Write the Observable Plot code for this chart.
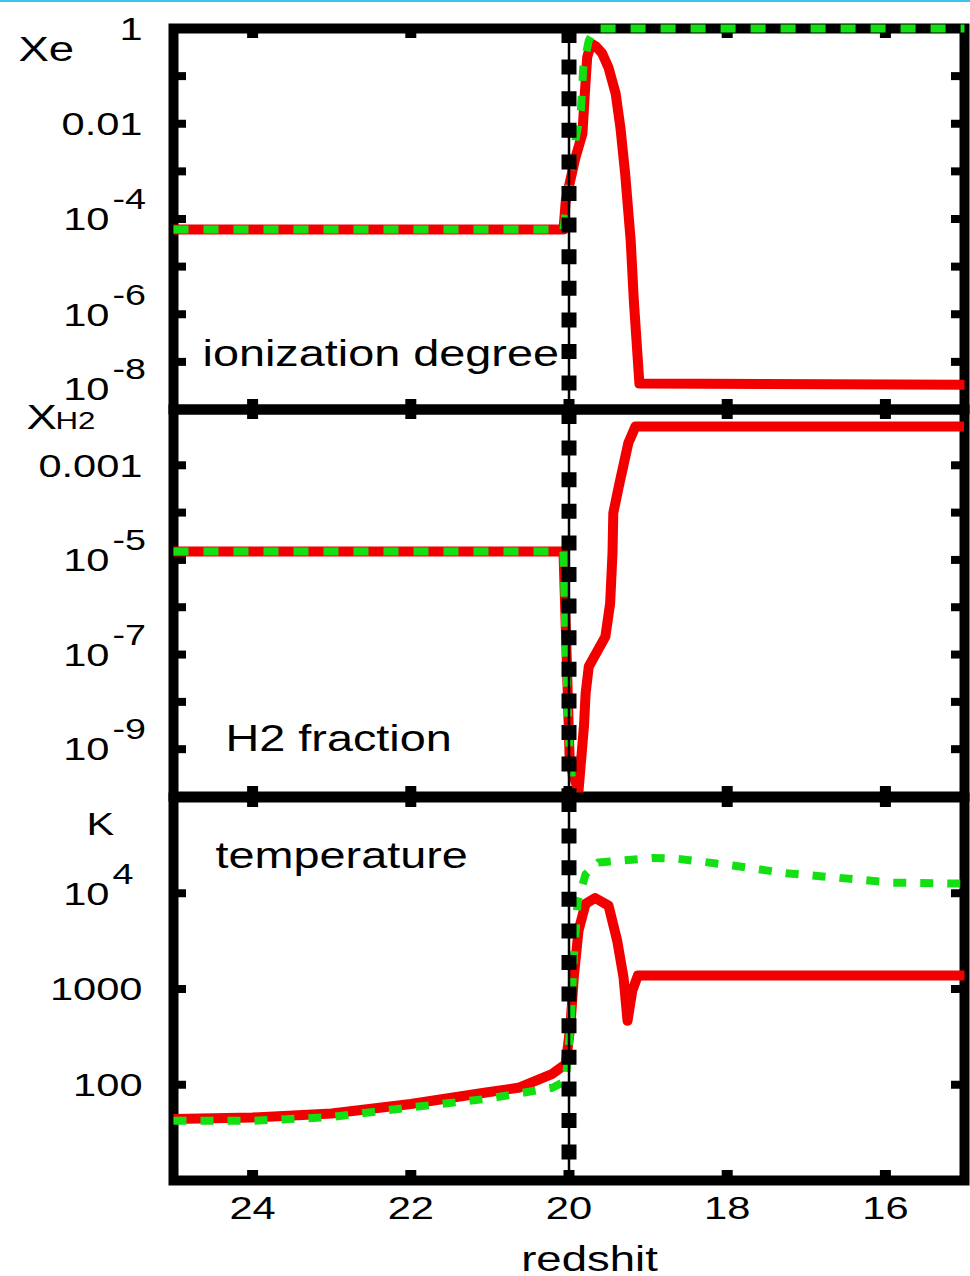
<!DOCTYPE html>
<html><head><meta charset="utf-8">
<script src="https://cdn.jsdelivr.net/npm/d3@7"></script>
<script src="https://cdn.jsdelivr.net/npm/@observablehq/plot@0.6"></script>
<style>
body{margin:0;background:#fff;}
#chart{position:relative;width:970px;height:1276px;background:#fff;overflow:hidden;}
#chart svg{position:absolute;left:0;top:0;background:transparent !important;max-width:none;}
#topline{position:absolute;left:0;top:0;width:970px;height:2px;background:#3cc4ef;}
</style></head><body><div id="chart"></div>
<script>
// ---------- data ----------
const redshiftDomain = [25, 15];
const redshiftTicks = [24, 22, 20, 18, 16];
const ionizationRedshift = 20;

// ionization degree Xe
const xeDomain = [1e-8, 1];
const xeTicks = [1e-1, 1e-2, 1e-3, 1e-4, 1e-5, 1e-6, 1e-7];
const xeLabelValues = [1, 1e-2, 1e-4, 1e-6, 1e-8];
const xeLabelBase = ["1", "0.01", "10", "10", "10"];
const xeLabelExp = ["", "", "-4", "-6", "-8"];
const xeRedZ = [25, 20.07, 20.04, 19.92, 19.83, 19.80, 19.77, 19.72, 19.66, 19.58, 19.50, 19.41, 19.35, 19.29, 19.22, 19.18, 19.13, 19.11, 15];
const xeRed  = [6.0e-5, 6.0e-5, 2.5e-4, 1.9e-3, 6.2e-3, 0.043, 0.25, 0.48, 0.42, 0.30, 0.15, 0.043, 8.3e-3, 8.9e-4, 3.5e-5, 1.9e-6, 1.1e-7, 3.5e-8, 3.3e-8];
const xeGreenZ = [25, 20.07, 20.05, 19.96, 19.85, 19.82, 19.75, 19.67, 15];
const xeGreen  = [6.0e-5, 6.0e-5, 1.1e-4, 1.9e-3, 0.019, 0.15, 0.56, 1, 1];

// H2 fraction
const h2Domain = [1e-10, 0.0151];
const h2Ticks = [1e-3, 1e-4, 1e-5, 1e-6, 1e-7, 1e-8, 1e-9];
const h2LabelValues = [1e-3, 1e-5, 1e-7, 1e-9];
const h2LabelBase = ["0.001", "10", "10", "10"];
const h2LabelExp = ["", "-5", "-7", "-9"];
const h2RedZ = [25, 20.07, 20.03, 19.99, 19.88, 19.81, 19.79, 19.75, 19.54, 19.48, 19.45, 19.44, 19.37, 19.25, 19.16, 15];
const h2Red  = [1.5e-5, 1.5e-5, 1e-7, 5e-10, 1.3e-10, 3.2e-9, 1.5e-8, 5.6e-8, 2.4e-7, 1.2e-6, 1.4e-5, 9.8e-5, 3.6e-4, 2.95e-3, 6.6e-3, 6.6e-3];
const h2GreenZ = [25, 20.07, 20.04, 20.00, 19.96, 19.90, 15];
const h2Green  = [1.5e-5, 1.5e-5, 1e-7, 1.5e-9, 2e-10, 1e-12, 1e-12];

// temperature K
const tDomain = [10, 1e5];
const tTicks = [1e4, 1e3, 1e2];
const tLabelValues = [1e4, 1e3, 1e2];
const tLabelBase = ["10", "1000", "100"];
const tLabelExp = ["4", "", ""];
const tRedZ = [25, 24, 23, 22, 21.05, 20.64, 20.21, 20.04, 19.98, 19.94, 19.88, 19.79, 19.67, 19.50, 19.39, 19.31, 19.26, 19.20, 19.13, 15];
const tRed  = [44, 45.5, 50, 63, 83, 93, 130, 165, 435, 1310, 4060, 7770, 8920, 7420, 3170, 1310, 465, 960, 1380, 1380];
const tGreenZ = [25, 24, 23, 22, 21.05, 20.64, 20.21, 20.04, 19.98, 19.94, 19.89, 19.79, 19.63, 18.94, 18.62, 17.93, 17.26, 16.59, 15.91, 15];
const tGreen  = [42, 42, 46, 58, 71, 81, 93, 110, 440, 2100, 8300, 15800, 20900, 23400, 22900, 19500, 16200, 14500, 12900, 12600];

// ---------- layout ----------
const FONT = "'Liberation Sans', Arial, Helvetica, sans-serif";
const W = 970, H = 1276, ML = 173, MR = 6;
const RED = "#f20000", GREEN = "#12e012";

function rows(z, v) { return z.map((d, i) => ({z: d, v: v[i]})); }

function textAt(str, xPx, basePx, fs, anchor, top) {
  return Plot.text([str], {text: d => d, frameAnchor: "top-left", dx: xPx - ML, dy: basePx - top - 0.32 * fs,
    textAnchor: anchor, lineAnchor: "middle", fontSize: fs, fontFamily: FONT, fill: "black"});
}

function panel(opt) {
  const innerH = opt.bottom - opt.top;
  const innerW = W - ML - MR;
  const marks = [
    Plot.frame({stroke: "black", strokeWidth: 10}),
    Plot.tickX(redshiftTicks, {x: d => d, insetBottom: innerH - 10, stroke: "black", strokeWidth: 11}),
    Plot.tickX(redshiftTicks, {x: d => d, insetTop: innerH - 10, stroke: "black", strokeWidth: 11}),
    Plot.tickY(opt.ticks, {y: d => d, insetRight: innerW - 13, stroke: "black", strokeWidth: 8}),
    Plot.tickY(opt.ticks, {y: d => d, insetLeft: innerW - 13, stroke: "black", strokeWidth: 8})
  ];
  opt.labelValues.forEach((v, i) => {
    const shift = (opt.raise && v === opt.raise) ? -21 : 0;
    if (opt.labelExp[i]) {
      marks.push(Plot.text([v], {y: d => d, text: () => opt.labelBase[i], frameAnchor: "left", textAnchor: "end",
        dx: 109 - ML, dy: shift + 1, lineAnchor: "middle", fontSize: 32, fontFamily: FONT, fill: "black"}));
      marks.push(Plot.text([v], {y: d => d, text: () => opt.labelExp[i], frameAnchor: "left", textAnchor: "start",
        dx: 112 - ML, dy: shift - 19, lineAnchor: "middle", fontSize: 29, fontFamily: FONT, fill: "black"}));
    } else {
      marks.push(Plot.text([v], {y: d => d, text: () => opt.labelBase[i], frameAnchor: "left", textAnchor: "end",
        dx: 142 - ML, dy: shift + 1, lineAnchor: "middle", fontSize: 32, fontFamily: FONT, fill: "black"}));
    }
  });
  marks.push(...opt.texts);
  marks.push(Plot.line(opt.red, {x: "z", y: "v", stroke: RED, strokeWidth: 10, strokeLinejoin: "round", strokeLinecap: "butt", clip: opt.clip}));
  marks.push(Plot.line(opt.green, {x: "z", y: "v", stroke: GREEN, strokeWidth: 8, strokeDasharray: opt.dash, strokeLinecap: "butt", strokeLinejoin: "round", clip: opt.clip}));
  marks.push(Plot.ruleX([ionizationRedshift], {x: d => d, stroke: "black", strokeWidth: 2.5}));
  marks.push(Plot.ruleX([ionizationRedshift], {x: d => d, stroke: "black", strokeWidth: 15, strokeDasharray: "15,16.6"}));
  if (opt.extra) marks.push(...opt.extra);
  return Plot.plot({
    width: W, height: H,
    marginLeft: ML, marginRight: MR, marginTop: opt.top, marginBottom: H - opt.bottom,
    x: {type: "linear", domain: redshiftDomain, axis: null},
    y: {type: "log", domain: opt.domain, axis: null},
    marks
  });
}

const chart = document.getElementById("chart");

const p1 = panel({
  top: 28, bottom: 409, domain: xeDomain, ticks: xeTicks,
  labelValues: xeLabelValues, labelBase: xeLabelBase, labelExp: xeLabelExp, raise: 1e-8,
  red: rows(xeRedZ, xeRed), green: rows(xeGreenZ, xeGreen), dash: "15,15", clip: false,
  texts: [textAt("Xe", 18, 60, 35, "start", 28), textAt("ionization degree", 202, 365, 36, "start", 28)]
});
const p2 = panel({
  top: 409, bottom: 796, domain: h2Domain, ticks: h2Ticks,
  labelValues: h2LabelValues, labelBase: h2LabelBase, labelExp: h2LabelExp,
  red: rows(h2RedZ, h2Red), green: rows(h2GreenZ, h2Green), dash: "15,15", clip: true,
  texts: [textAt("X", 26, 428, 35, "start", 409), textAt("H2", 55, 428, 24, "start", 409),
          textAt("H2 fraction", 225, 750, 36, "start", 409)]
});
const p3 = panel({
  top: 797, bottom: 1180, domain: tDomain, ticks: tTicks,
  labelValues: tLabelValues, labelBase: tLabelBase, labelExp: tLabelExp,
  red: rows(tRedZ, tRed), green: rows(tGreenZ, tGreen), dash: "13,14", clip: false,
  texts: [textAt("K", 86, 834, 32, "start", 797), textAt("temperature", 215, 867, 36, "start", 797),
          textAt("redshit", 589, 1270, 35, "middle", 797)],
  extra: [Plot.text(redshiftTicks, {x: d => d, text: d => String(d), frameAnchor: "bottom", textAnchor: "middle",
          dy: 1218 - 1180 - 0.32 * 32, lineAnchor: "middle", fontSize: 32, fontFamily: FONT, fill: "black"})]
});

[p1, p2, p3].forEach(s => {
  s.style.position = "absolute"; s.style.left = "0"; s.style.top = "0";
  s.style.background = "transparent"; s.style.overflow = "visible";
  chart.appendChild(s);
});
const tl = document.createElement("div"); tl.id = "topline"; chart.appendChild(tl);

// horizontally widened lettering, as in the original figure
chart.querySelectorAll("svg text").forEach(t => {
  const L = t.getComputedTextLength();
  if (L > 0) {
    t.setAttribute("textLength", (L * 1.3).toFixed(1));
    t.setAttribute("lengthAdjust", "spacingAndGlyphs");
  }
});
</script></body></html>
